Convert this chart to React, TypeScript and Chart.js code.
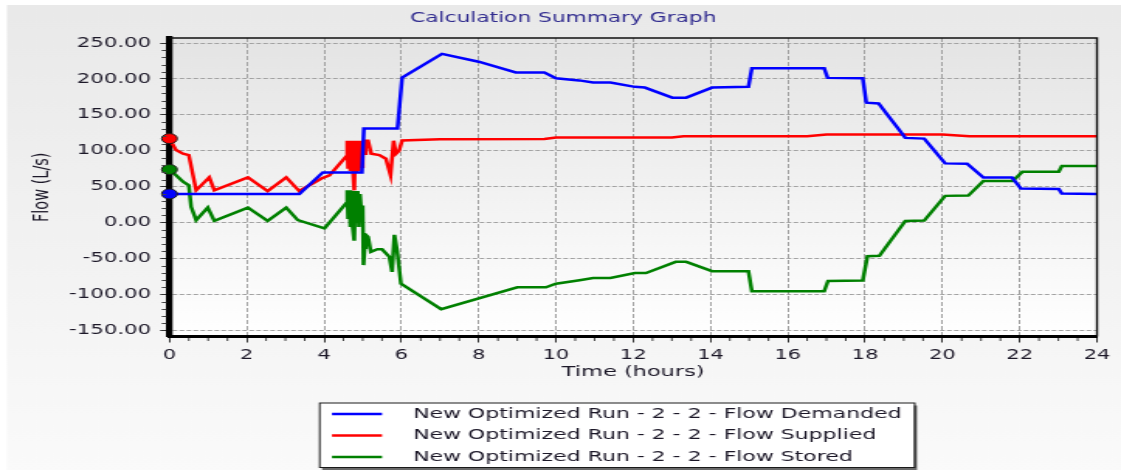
import React, { useEffect, useRef } from "react";
import { Chart, registerables } from "chart.js";

Chart.register(...registerables);

const FONT = '"DejaVu Sans", Verdana, sans-serif';

// ---- data ----
const demandedHours = [0, 3.36, 3.97, 4.98, 5.03, 5.9, 6.02, 7.05, 8.0, 8.96, 9.7, 10.0, 10.6, 10.96, 11.41, 12.04, 12.3, 13.01, 13.37, 14.04, 14.98, 15.07, 16.94, 17.03, 17.94, 18.03, 18.35, 19.04, 19.53, 20.07, 20.64, 21.06, 21.8, 22.03, 23.01, 23.09, 24];
const demandedFlow = [40, 40, 70, 70, 131, 131, 202, 235, 224, 209, 209, 201, 198, 195, 195, 189, 188, 174, 174, 188, 189, 215, 215, 201.5, 201, 167, 166, 118, 117, 82.5, 82, 63, 63, 47.5, 47, 40.5, 40];

const suppliedHours = [0, 0.17, 0.35, 0.5, 0.69, 1.03, 1.16, 2.03, 2.54, 3.02, 3.36, 3.93, 4.14, 4.57, 4.6, 4.62, 4.65, 4.68, 4.71, 4.74, 4.78, 4.81, 4.84, 4.87, 4.9, 4.93, 4.97, 5.0, 5.05, 5.08, 5.14, 5.22, 5.43, 5.6, 5.72, 5.8, 5.86, 5.94, 6.02, 7.0, 9.7, 10.0, 13.0, 13.3, 16.5, 17.0, 20.0, 20.7, 24];
const suppliedFlow = [117, 101, 96, 94, 45, 63, 45, 63, 44, 63, 44, 61.5, 66, 92, 114, 75, 114, 72, 114, 80, 45, 114, 70, 114, 72, 114, 78, 114, 96, 114, 114, 96, 94, 89, 66, 114, 96, 100, 114.5, 116, 116.5, 118.6, 118.6, 120.4, 120.4, 122.8, 122.8, 120.4, 120.4];

const storedHours = [0, 0.17, 0.35, 0.5, 0.56, 0.69, 0.99, 1.16, 2.03, 2.54, 3.02, 3.32, 4.01, 4.57, 4.6, 4.62, 4.65, 4.68, 4.71, 4.74, 4.78, 4.81, 4.84, 4.87, 4.9, 4.93, 4.97, 5.0, 5.02, 5.05, 5.08, 5.14, 5.21, 5.38, 5.5, 5.69, 5.76, 5.82, 5.89, 5.99, 7.03, 9.0, 9.74, 10.0, 10.61, 10.96, 11.41, 12.04, 12.33, 13.1, 13.37, 14.04, 14.98, 15.07, 16.94, 17.04, 17.94, 18.06, 18.37, 19.04, 19.53, 20.07, 20.67, 21.06, 21.82, 22.07, 23.01, 23.09, 24];
const storedFlow = [74, 66, 57, 52, 22, 3.5, 21, 2.5, 21, 2.5, 21, 3.5, -8, 27, 45, 5, 45, -6, 44, -6, -25, 44, 0, 44, -6, 40, 10, 24, -59, -35, -17, -20, -40.6, -37, -37, -47.6, -68.5, -17, -39, -85, -120.5, -90, -90, -85, -80, -77, -77, -70, -70, -54.5, -54.5, -67.5, -67.5, -95.4, -95.4, -81, -80.5, -46.7, -46, 2.5, 3, 37.3, 37.7, 58, 58, 70.8, 70.8, 78.7, 78.7];

const seriesLabels = [
  "New Optimized Run - 2 - 2 - Flow Demanded",
  "New Optimized Run - 2 - 2 - Flow Supplied",
  "New Optimized Run - 2 - 2 - Flow Stored",
];
const seriesColors = ["#0000ff", "#ff0000", "#008000"];

const xTickValues = [0, 2, 4, 6, 8, 10, 12, 14, 16, 18, 20, 22, 24];
const yTickValues = [-150, -100, -50, 0, 50, 100, 150, 200, 250];
const chartTitle = "Calculation Summary Graph";
const xTitle = "Time (hours)";
const yTitle = "Flow (L/s)";

// ---- layout ----
const CANVAS_W = 723; // drawn at this width, shown stretched like the reference
const CANVAS_H = 470;
const CSS_W = 1121;
const TEXT = "#1c1828";

const toPoints = (xs: number[], ys: number[]) => xs.map((x, i) => ({ x, y: ys[i] }));

const backgroundPlugin = {
  id: "bgPanel",
  beforeDraw(chart: any) {
    const { ctx, chartArea: a, width, height } = chart;
    ctx.save();
    ctx.fillStyle = "#ffffff";
    ctx.fillRect(0, 0, width, height);
    let g = ctx.createLinearGradient(0, 5, 0, height);
    g.addColorStop(0, "#e9e9e9");
    g.addColorStop(1, "#fafafa");
    ctx.fillStyle = g;
    ctx.fillRect(4.5, 5, width - 4.5, height - 5);
    g = ctx.createLinearGradient(0, a.top, 0, a.bottom);
    g.addColorStop(0, "#e4e4e4");
    g.addColorStop(1, "#ffffff");
    ctx.fillStyle = g;
    ctx.fillRect(a.left, a.top, a.right - a.left, a.bottom - a.top);
    ctx.restore();
  },
};

const framePlugin = {
  id: "frameLegend",
  afterDraw(chart: any) {
    const { ctx, chartArea: a } = chart;
    const xs = chart.scales.x;
    const ys = chart.scales.y;
    ctx.save();
    // top and right frame
    ctx.strokeStyle = "#111";
    ctx.lineWidth = 1.4;
    ctx.beginPath();
    ctx.moveTo(a.left, a.top);
    ctx.lineTo(a.right, a.top);
    ctx.lineTo(a.right, a.bottom);
    ctx.stroke();

    // minor ticks
    ctx.strokeStyle = "#444";
    ctx.lineWidth = 1;
    ctx.beginPath();
    for (let v = yTickValues[0]; v <= yTickValues[yTickValues.length - 1]; v += 10) {
      if (v % 50 === 0) continue;
      const py = Math.round(ys.getPixelForValue(v)) + 0.5;
      ctx.moveTo(a.left - 5, py);
      ctx.lineTo(a.left - 2, py);
    }
    for (let h = 0; h <= 24; h += 0.5) {
      if (h % 2 === 0) continue;
      const px = xs.getPixelForValue(h);
      ctx.moveTo(px, a.bottom + 1.5);
      ctx.lineTo(px, a.bottom + 4.5);
    }
    ctx.stroke();

    // legend box
    const left = 205.7;
    const top = 402.5;
    const rowH = 21.5;
    const firstRow = 414;
    const textX = 266.4;
    ctx.font = `14.2px ${FONT}`;
    const labels = chart.data.datasets.map((d: any) => d.label as string);
    const maxW = Math.max(...labels.map((l: string) => ctx.measureText(l).width));
    const w = textX - left + maxW + 8;
    const h = 64.5;
    ctx.fillStyle = "#6a6a6a";
    ctx.fillRect(left + 2, top + 3, w, h);
    ctx.fillStyle = "#ffffff";
    ctx.fillRect(left, top, w, h);
    ctx.strokeStyle = "#1a1a1a";
    ctx.lineWidth = 1;
    ctx.strokeRect(left + 0.5, top + 0.5, w, h);
    chart.data.datasets.forEach((ds: any, i: number) => {
      const yy = firstRow + i * rowH;
      ctx.strokeStyle = ds.borderColor;
      ctx.lineWidth = 2.5;
      ctx.beginPath();
      ctx.moveTo(214.1, yy);
      ctx.lineTo(246.4, yy);
      ctx.stroke();
      ctx.fillStyle = TEXT;
      ctx.textBaseline = "middle";
      ctx.textAlign = "left";
      ctx.fillText(ds.label, textX, yy);
    });
    ctx.restore();
  },
};

export default function App() {
  const canvasRef = useRef<HTMLCanvasElement | null>(null);

  useEffect(() => {
    if (!canvasRef.current) return;
    const series = [
      toPoints(demandedHours, demandedFlow),
      toPoints(suppliedHours, suppliedFlow),
      toPoints(storedHours, storedFlow),
    ];
    const chart = new Chart(canvasRef.current, {
      type: "line",
      data: {
        datasets: series.map((data, i) => ({
          label: seriesLabels[i],
          data,
          borderColor: seriesColors[i],
          backgroundColor: seriesColors[i],
          borderWidth: 2.5,
          tension: 0,
          fill: false,
          clip: false as any,
          pointRadius: (c: any) => (c.dataIndex === 0 ? 5 : 0),
          pointHoverRadius: 0,
          pointBackgroundColor: seriesColors[i],
          pointBorderColor: "#1a1a1a",
          pointBorderWidth: 1,
        })),
      },
      options: {
        animation: false,
        responsive: false,
        devicePixelRatio: 1,
        events: [],
        layout: { padding: { left: 19, right: 15.5, top: 0, bottom: 83.5 } },
        plugins: {
          legend: { display: false },
          tooltip: { enabled: false },
          title: {
            display: true,
            text: chartTitle,
            color: "#2f2a8e",
            font: { family: FONT, size: 14, weight: "normal" as any },
            padding: { top: 10, bottom: 11.2 },
          },
        },
        scales: {
          x: {
            type: "linear",
            min: 0,
            max: 24,
            afterBuildTicks: (s: any) => {
              s.ticks = xTickValues.map((v) => ({ value: v }));
            },
            afterFit: (s: any) => {
              s.height = 50;
            },
            grid: {
              color: "#a2a2a2",
              lineWidth: 1,
              tickLength: 6,
              tickColor: "#333",
              tickWidth: 1,
            },
            border: { display: true, color: "#000", width: 3, dash: [4, 2] },
            ticks: {
              padding: 4.4,
              color: TEXT,
              maxRotation: 0,
              autoSkip: false,
              font: { family: FONT, size: 13.5 },
              callback: (v: any) => String(v),
            },
            title: {
              display: true,
              text: xTitle,
              color: TEXT,
              font: { family: FONT, size: 14.5 },
              padding: { top: 0, bottom: 5.8 },
            },
          },
          y: {
            type: "linear",
            min: -158.4,
            max: 257,
            afterBuildTicks: (s: any) => {
              s.ticks = yTickValues.map((v) => ({ value: v }));
            },
            afterFit: (s: any) => {
              s.width = 90.3;
            },
            grid: {
              color: "#a2a2a2",
              lineWidth: 1,
              tickLength: 6,
              tickColor: "#333",
              tickWidth: 1,
            },
            border: { display: true, color: "#000", width: 4.3, dash: [3, 1.5] },
            ticks: {
              padding: 5.9,
              color: TEXT,
              autoSkip: false,
              font: { family: FONT, size: 13.7 },
              callback: (v: any) => Number(v).toFixed(2),
            },
            title: {
              display: true,
              text: yTitle,
              color: TEXT,
              font: { family: FONT, size: 14.5 },
              padding: { top: 0, bottom: 0 },
            },
          },
        },
      },
      plugins: [backgroundPlugin, framePlugin],
    } as any);
    return () => chart.destroy();
  }, []);

  return (
    <div
      style={{
        position: "absolute",
        left: 0,
        top: 0,
        width: CSS_W,
        height: CANVAS_H,
        overflow: "hidden",
        background: "#fff",
      }}
    >
      <canvas
        ref={canvasRef}
        width={CANVAS_W}
        height={CANVAS_H}
        style={{ width: `${CSS_W}px`, height: `${CANVAS_H}px`, display: "block" }}
      />
    </div>
  );
}
